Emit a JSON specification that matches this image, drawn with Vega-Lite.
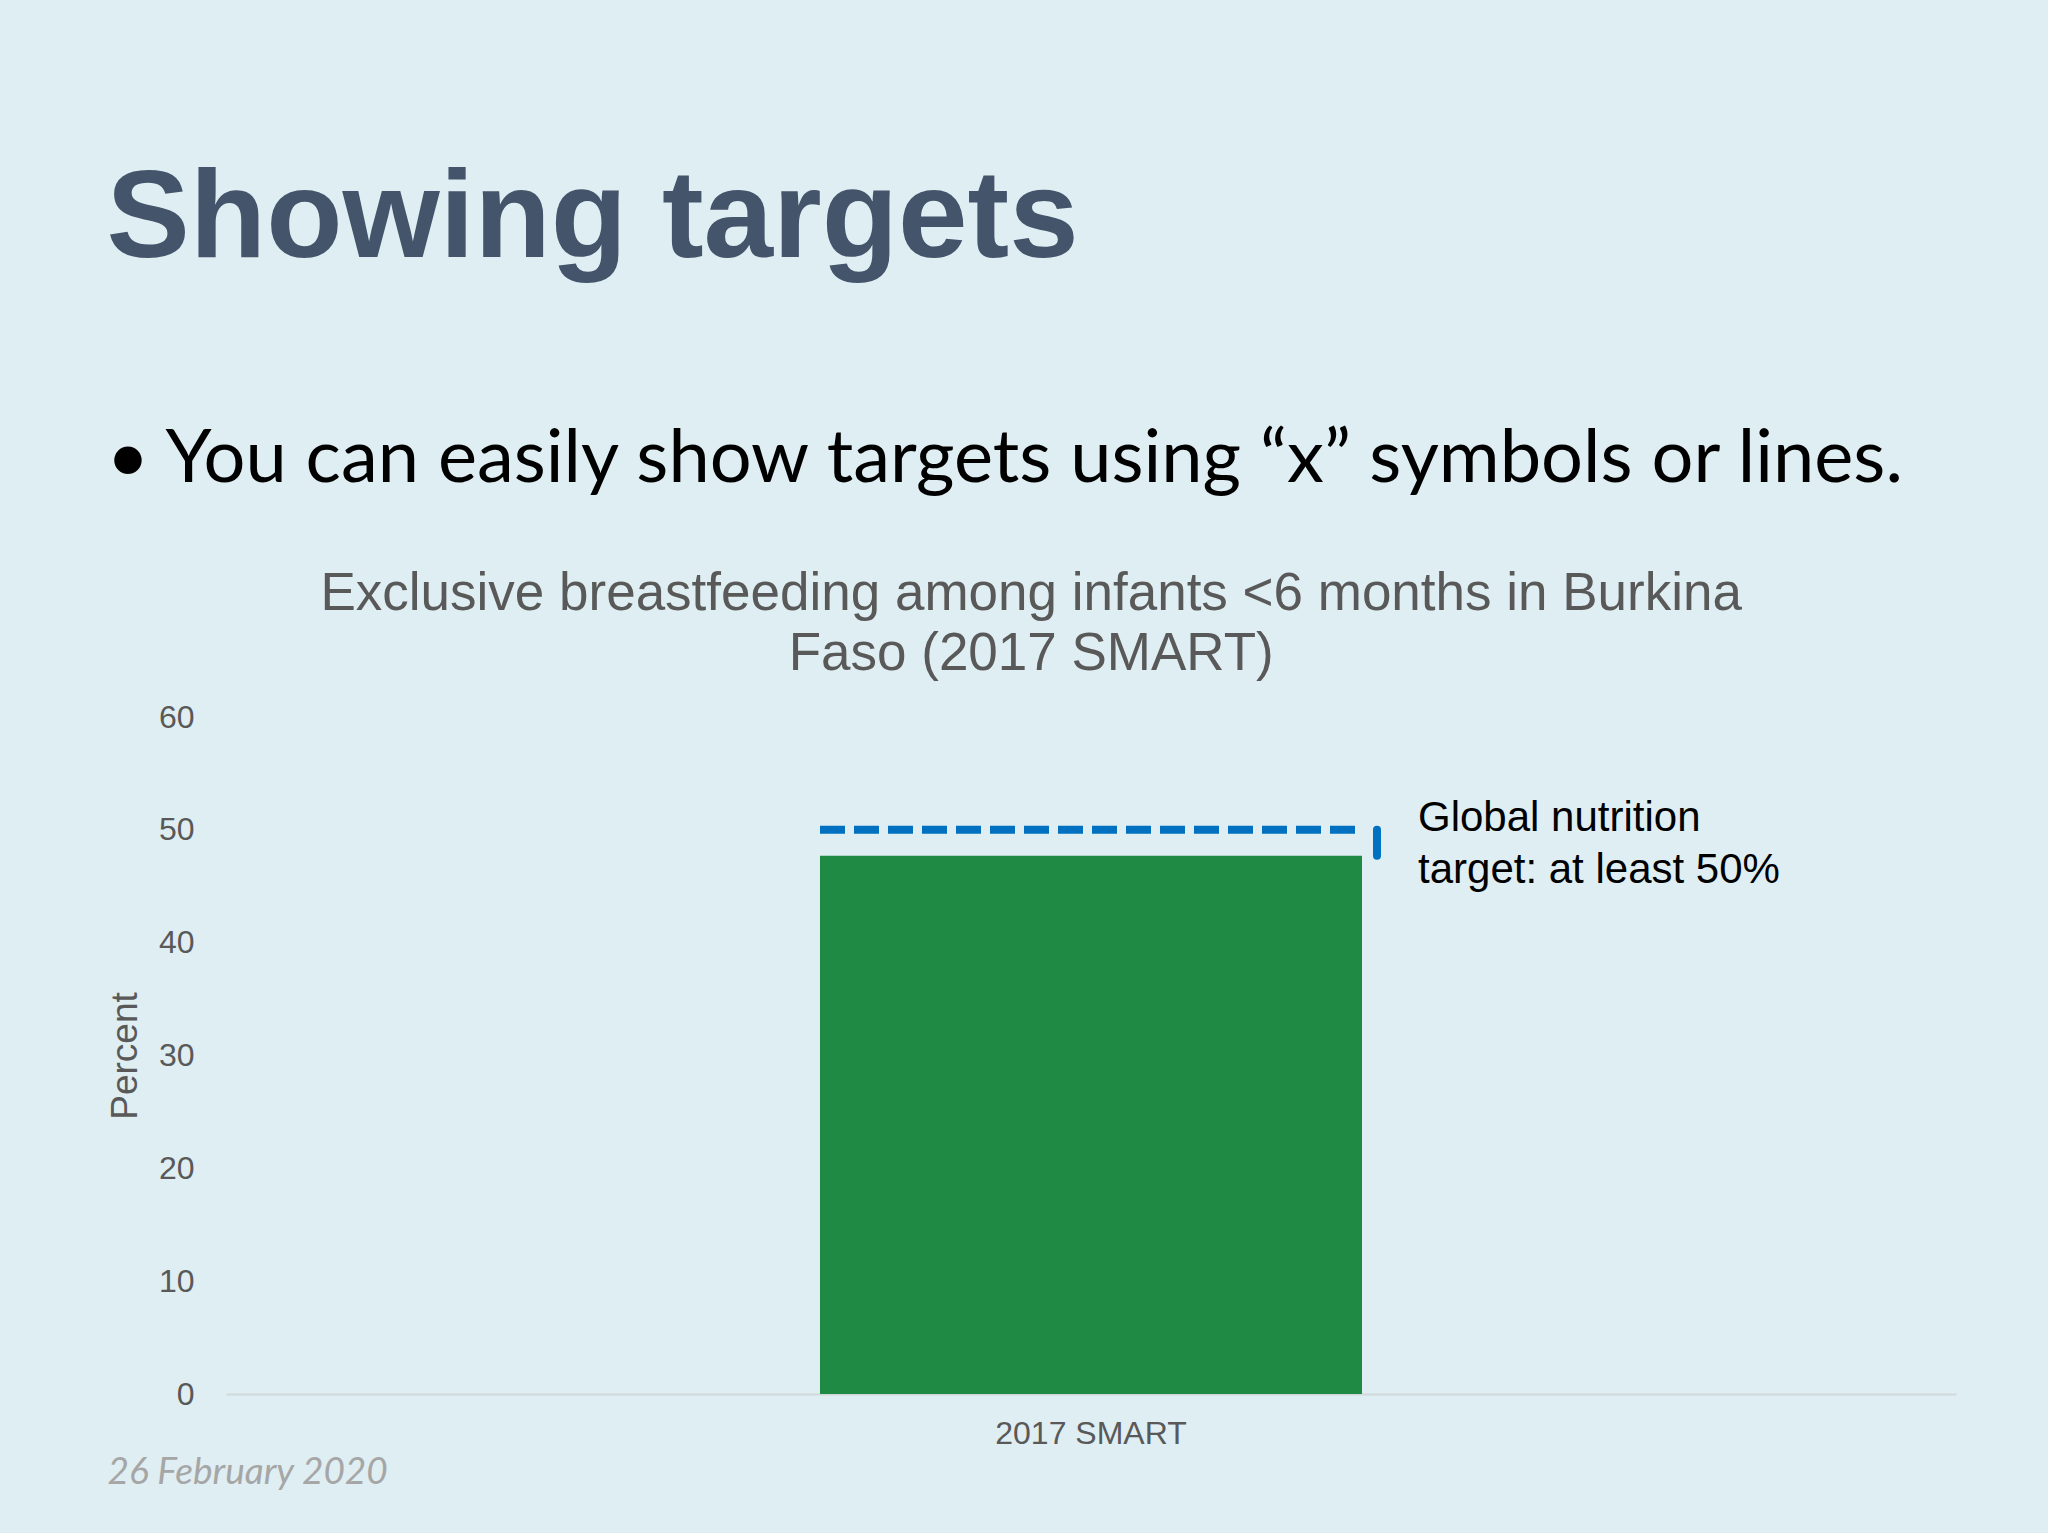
{
  "$schema": "https://vega.github.io/schema/vega-lite/v6.json",
  "background": "#dfeef2",
  "padding": {"left": 106, "top": 157, "right": 93, "bottom": 43},
  "title": {
    "text": "Showing targets",
    "subtitle": "• You can easily show targets using “x” symbols or lines.",
    "anchor": "start",
    "frame": "bounds",
    "font": "Liberation Sans",
    "fontSize": 125,
    "fontWeight": "bold",
    "color": "#44546a",
    "subtitleFont": "Lato",
    "subtitleFontSize": 74,
    "subtitleColor": "#000000",
    "subtitlePadding": 141,
    "offset": 70
  },
  "config": {
    "font": "Liberation Sans",
    "view": {"stroke": null}
  },
  "vconcat": [
    {
      "width": 1730,
      "height": 677,
      "title": {
        "text": ["Exclusive breastfeeding among infants <6 months in Burkina", "Faso (2017 SMART)"],
        "fontSize": 53,
        "fontWeight": "normal",
        "color": "#595959",
        "lineHeight": 60,
        "anchor": "middle",
        "frame": "bounds",
        "offset": 20
      },
      "data": {
        "values": [
          {"survey": "2017 SMART", "percent": 47.7, "target": 50, "note": ["Global nutrition", "target: at least 50%"]}
        ]
      },
      "encoding": {
        "x": {
          "field": "survey",
          "type": "nominal",
          "scale": {"paddingInner": 0.0875, "paddingOuter": 1},
          "axis": {
            "labelAngle": 0,
            "labelFontSize": 32,
            "labelLimit": 0,
            "labelColor": "#595959",
            "labelPadding": 24,
            "ticks": false,
            "domainColor": "#d0d8da",
            "domainWidth": 2,
            "title": "26 February 2020",
            "titleFont": "Lato",
            "titleFontStyle": "italic",
            "titleFontWeight": "normal",
            "titleFontSize": 37,
            "titleColor": "#a6a6a6",
            "titleAnchor": "start",
            "titleAlign": "left",
            "titleBaseline": "alphabetic",
            "titleX": -119,
            "titleY": 89
          }
        }
      },
      "layer": [
        {
          "mark": {"type": "bar", "color": "#1e8a44"},
          "encoding": {
            "y": {
              "field": "percent",
              "type": "quantitative",
              "scale": {"domain": [0, 60], "nice": false},
              "axis": {
                "values": [0, 10, 20, 30, 40, 50, 60],
                "grid": false,
                "domain": false,
                "ticks": false,
                "labelFontSize": 32,
                "labelColor": "#595959",
                "labelPadding": 32,
                "title": "Percent",
                "titleFontSize": 37,
                "titleFontWeight": "normal",
                "titleColor": "#595959",
                "titlePadding": 14
              }
            }
          }
        },
        {
          "mark": {"type": "rule", "color": "#0070c0", "strokeWidth": 8, "strokeDash": [25, 9]},
          "encoding": {
            "x": {"field": "survey", "type": "nominal", "bandPosition": 0},
            "x2": {"field": "survey", "bandPosition": 1},
            "y": {"field": "target", "type": "quantitative"}
          }
        },
        {
          "mark": {"type": "rule", "color": "#0070c0", "strokeWidth": 8, "strokeCap": "round", "xOffset": 15},
          "encoding": {
            "x": {"field": "survey", "type": "nominal", "bandPosition": 1},
            "y": {"field": "target", "type": "quantitative"},
            "y2": {"field": "percent"}
          }
        },
        {
          "mark": {"type": "text", "align": "left", "baseline": "middle", "dx": 56, "dy": -12, "fontSize": 42, "lineHeight": 52, "color": "#000000"},
          "encoding": {
            "x": {"field": "survey", "type": "nominal", "bandPosition": 1},
            "y": {"field": "target", "type": "quantitative"},
            "text": {"field": "note"}
          }
        }
      ]
    }
  ]
}
